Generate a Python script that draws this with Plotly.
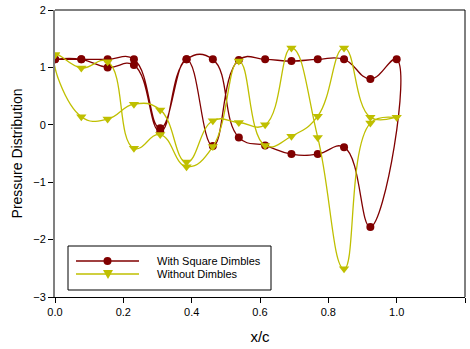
import plotly.graph_objects as go

# chordwise stations (x/c)
x_c = [0.000, 0.077, 0.154, 0.231, 0.308, 0.385, 0.462,
       0.538, 0.615, 0.692, 0.769, 0.846, 0.923, 1.000]

# With square dimbles: the two surfaces of the loop
sq_surf_a = [1.14, 1.14, 1.14, 1.14, -0.06, 1.14, -0.37,
             1.13, 1.14, 1.11, 1.14, 1.14, 0.80, 1.14]
sq_surf_b = [1.14, 1.14, 1.00, 1.04, -0.12, 1.14, 1.14,
             -0.22, -0.36, -0.51, -0.51, -0.39, -1.78, 1.14]

# Without dimbles: the two surfaces of the loop
pl_surf_a = [1.22, 0.14, 0.10, 0.36, 0.26, -0.65, 0.07,
             0.04, 0.00, 1.34, -0.22, -2.51, 0.03, 0.13]
pl_surf_b = [1.22, 0.99, 1.10, -0.41, -0.17, -0.73, -0.38,
             1.11, -0.36, -0.20, 0.15, 1.34, 0.13, 0.13]

series_names = ["With Square Dimbles", "Without Dimbles"]

RED = "#800000"
OLIVE = "#bfbf00"
FONT = "Liberation Sans, Arial, sans-serif"

# plot area in pixels (for placing the legend box)
L, R, T, B = 55, 465, 10, 297


def px(x):
    return (x - L) / (R - L)


def py(y):
    return (B - y) / (B - T)


def loop(xs, a, b):
    """Walk surface a from leading to trailing edge, then b back."""
    return xs + xs[::-1][1:], a + b[::-1][1:]


fig = go.Figure()

lx, ly = loop(x_c, sq_surf_a, sq_surf_b)
fig.add_trace(go.Scatter(
    x=lx, y=ly, mode="lines+markers", name=series_names[0],
    line=dict(color=RED, width=1.3, shape="spline", smoothing=1.3),
    marker=dict(symbol="circle", size=8, color=RED),
))

lx, ly = loop(x_c, pl_surf_a, pl_surf_b)
fig.add_trace(go.Scatter(
    x=lx, y=ly, mode="lines+markers", name=series_names[1],
    line=dict(color=OLIVE, width=1.3, shape="spline", smoothing=1.3),
    marker=dict(symbol="triangle-down", size=9, color=OLIVE),
))

# legend drawn as a boxed key in the lower-left corner
shapes = [
    dict(type="line", xref="paper", yref="paper", x0=0, x1=1, y0=1, y1=1,
         line=dict(color="black", width=1)),
    dict(type="line", xref="paper", yref="paper", x0=1, x1=1, y0=0, y1=1,
         line=dict(color="black", width=1)),
    dict(type="rect", xref="paper", yref="paper", x0=px(68), x1=px(271),
         y0=py(290), y1=py(246), line=dict(color="black", width=1)),
]
annotations = []
key_rows = [(261, RED, "circle"), (274, OLIVE, "tri")]
for (ky, col, sym), name in zip(key_rows, series_names):
    shapes.append(dict(type="line", xref="paper", yref="paper",
                       x0=px(76), x1=px(139), y0=py(ky), y1=py(ky),
                       line=dict(color=col, width=1.3)))
    if sym == "circle":
        shapes.append(dict(type="circle", xref="paper", yref="paper",
                           x0=px(103.5), x1=px(111.5), y0=py(ky + 4), y1=py(ky - 4),
                           fillcolor=col, line=dict(color=col, width=0)))
    else:
        x0, x1, xm = px(103), px(113), px(108)
        ytop, ybot = py(ky - 4), py(ky + 5)
        shapes.append(dict(type="path", xref="paper", yref="paper",
                           path=f"M {x0},{ytop} L {x1},{ytop} L {xm},{ybot} Z",
                           fillcolor=col, line=dict(color=col, width=0)))
    annotations.append(dict(xref="paper", yref="paper", x=px(155), y=py(ky),
                            xanchor="left", yanchor="middle", showarrow=False,
                            text=name, font=dict(family=FONT, size=11, color="black")))

fig.update_layout(
    width=470, height=349,
    margin=dict(l=L, r=470 - R, t=T, b=349 - B),
    paper_bgcolor="white", plot_bgcolor="white",
    font=dict(family=FONT, size=11, color="black"),
    showlegend=False,
    xaxis=dict(
        range=[0, 1.2], dtick=0.2, tick0=0, tickformat=".1f",
        ticks="outside", ticklen=5, tickcolor="black",
        showline=True, linecolor="black", linewidth=1,
        showgrid=False, zeroline=False,
        title=dict(text="x/c", font=dict(family=FONT, size=15), standoff=14),
    ),
    yaxis=dict(
        range=[-3, 2], dtick=1, tick0=0,
        ticks="outside", ticklen=5, tickcolor="black",
        showline=True, linecolor="#808080", linewidth=2,
        showgrid=False, zeroline=False,
        title=dict(text="Pressure Distribution", font=dict(family=FONT, size=14), standoff=7),
    ),
    shapes=shapes,
    annotations=annotations,
)

fig.write_html("out.html")
